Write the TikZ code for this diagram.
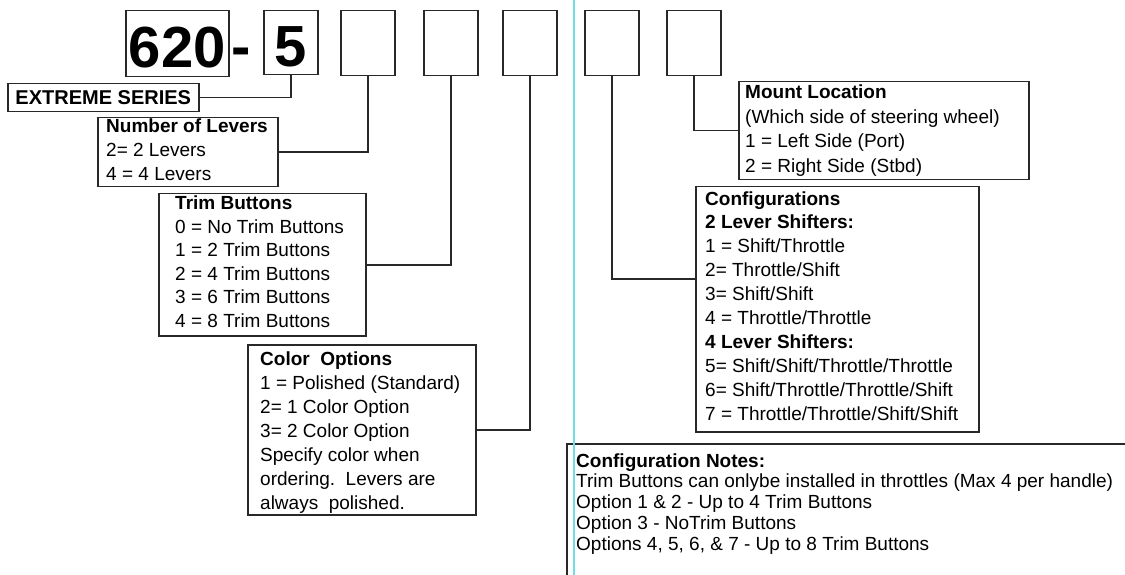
\documentclass[tikz,border=0pt]{standalone}
\usepackage{fontspec}
\setmainfont{Liberation Sans}
\definecolor{ink}{RGB}{40,40,40}
\definecolor{guide}{RGB}{110,222,232}
\tikzset{
  box/.style={draw=ink, line width=1.5pt, inner sep=0pt, anchor=north west},
  bigdigit/.style={font=\bfseries\fontsize{58}{58}\selectfont, text height=49pt},
  tagbox/.style={box, minimum width=54pt, minimum height=65pt},
  txt/.style={inner sep=0pt, anchor=base west},
  wire/.style={draw=ink, line width=1.5pt},
  guideline/.style={draw=guide, line width=2pt}
}
\newcommand\txtblock[2]{\parbox[t]{25cm}{\fontsize{19}{#1}\selectfont #2}}
\begin{document}
\begin{tikzpicture}[x=1pt,y=-1pt]
\useasboundingbox (0,0) rectangle (1125,575);
\fill[white] (0,0) rectangle (1125,575);
\clip (0,0) rectangle (1125,575);

% code boxes
\node[box, bigdigit, minimum width=103pt, minimum height=66pt] (b1) at (125,10) {620};
\node[bigdigit, inner sep=0pt, anchor=base] (hy) at (241,67) {-};
\node[tagbox, bigdigit, minimum height=64pt] (b2) at (263,10) {5};
\node[tagbox] (b3) at (340,10) {};
\node[tagbox] (b4) at (423,10) {};
\node[tagbox] (b5) at (502,10) {};
\node[tagbox] (b6) at (584,10) {};
\node[tagbox] (b7) at (666,10) {};

% description boxes
\node[box, minimum width=191pt, minimum height=28pt, anchor=north west,
      font=\bfseries\fontsize{20}{20}\selectfont] (es) at (7,83) {EXTREME SERIES};
\node[box, minimum width=180pt, minimum height=69pt] (nl) at (97,117) {};
\node[box, minimum width=207pt, minimum height=142pt] (tb) at (158,193) {};
\node[box, minimum width=228pt, minimum height=170pt] (co) at (247,344) {};
\node[box, minimum width=290pt, minimum height=98pt] (ml) at (738,81) {};
\node[box, minimum width=283pt, minimum height=245pt] (cf) at (695,186) {};
\node[box, minimum width=600pt, minimum height=170pt] (cn) at (566,443) {};

% texts
\node[txt] (nlt) at ([xshift=9pt,yshift=-16pt]nl.north west) {\txtblock{24}{%
\textbf{Number of Levers}\\
2= 2 Levers\\
4 = 4 Levers}};
\node[txt] (tbt) at ([xshift=17pt,yshift=-17pt]tb.north west) {\txtblock{23.5}{%
\textbf{Trim Buttons}\\
0 = No Trim Buttons\\
1 = 2 Trim Buttons\\
2 = 4 Trim Buttons\\
3 = 6 Trim Buttons\\
4 = 8 Trim Buttons}};
\node[txt] (cot) at ([xshift=13pt,yshift=-21pt]co.north west) {\txtblock{24}{%
\textbf{Color\ \ Options}\\
1 = Polished (Standard)\\
2= 1 Color Option\\
3= 2 Color Option\\
Specify color when\\
ordering.\ \ Levers are\\
always\ \ polished.}};
\node[txt] (mlt) at ([xshift=7pt,yshift=-18pt]ml.north west) {\txtblock{24.5}{%
\textbf{Mount Location}\\
(Which side of steering wheel)\\
1 = Left Side (Port)\\
2 = Right Side (Stbd)}};
\node[txt] (cft) at ([xshift=10pt,yshift=-19pt]cf.north west) {\txtblock{23.9}{%
\textbf{Configurations}\\
\textbf{2 Lever Shifters:}\\
1 = Shift/Throttle\\
2= Throttle/Shift\\
3= Shift/Shift\\
4 = Throttle/Throttle\\
\textbf{4 Lever Shifters:}\\
5= Shift/Shift/Throttle/Throttle\\
6= Shift/Throttle/Throttle/Shift\\
7 = Throttle/Throttle/Shift/Shift}};
\node[txt] (cnt) at ([xshift=10pt,yshift=-24pt]cn.north west) {\txtblock{20.8}{%
\textbf{Configuration Notes:}\\
Trim Buttons can onlybe installed in throttles (Max 4 per handle)\\
Option 1 \& 2 - Up to 4 Trim Buttons\\
Option 3 - NoTrim Buttons\\
Options 4, 5, 6, \& 7 - Up to 8 Trim Buttons}};

% connectors
\draw[wire] (es.east) -| (b2.south);
\draw[wire] (b3.south) |- (nl.east);
\draw[wire] (b4.south) |- (tb.east);
\draw[wire] (b5.south) |- (co.east);
\draw[wire] (b6.south) |- (cf.west |- 0,279);
\draw[wire] (b7.south) |- (ml.west);

% guide line
\draw[guideline] (574,0) -- (574,575);
\end{tikzpicture}
\end{document}
